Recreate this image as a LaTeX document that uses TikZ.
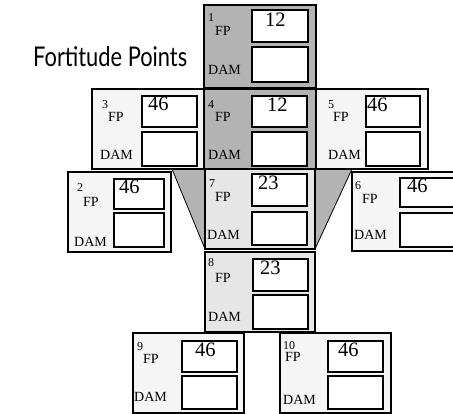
\documentclass[tikz,border=0pt]{standalone}
\usepackage{fontspec}
\setmainfont{Liberation Serif}
\newfontfamily\titlefont{Lato}
\usetikzlibrary{fit}
\definecolor{darkpart}{HTML}{B3B3B3}
\definecolor{midpart}{HTML}{E6E6E6}
\definecolor{lightpart}{HTML}{F5F5F5}
\tikzset{
  partbox/.style={draw=black, line width=1.8pt, inner sep=0pt},
  darkbox/.style={partbox, fill=darkpart},
  midbox/.style={partbox, fill=midpart},
  lightbox/.style={partbox, fill=lightpart},
  slot/.style={draw=black, line width=1.8pt, fill=white, inner sep=0pt},
  numlab/.style={font=\fontsize{12}{12}\selectfont, inner sep=0pt, anchor=base west},
  fplab/.style={font=\fontsize{14}{14}\selectfont, inner sep=0pt, anchor=base west},
  vallab/.style={font=\fontsize{20.5}{20.5}\selectfont, inner sep=0pt, anchor=base west},
  wedgefill/.style={fill=darkpart},
  wedgeline/.style={draw=black, line width=0.8pt},
  titlelab/.style={inner sep=0pt, anchor=base west}
}
% name, style, north-west corner, south-east corner
\newcommand\rectnode[4]{%
  \coordinate (#1-a) at (#3);
  \coordinate (#1-b) at (#4);
  \node[#2, fit=(#1-a)(#1-b)] (#1) {};}
% box name, number, num pos, FP pos, DAM pos
\newcommand\partlabels[5]{%
  \node[numlab] (#1-num) at (#3) {#2};
  \node[fplab] (#1-fp) at (#4) {FP};
  \node[fplab] (#1-dam) at (#5) {DAM};}
\begin{document}
\begin{tikzpicture}[x=1pt, y=-1pt]
\clip (0,0) rectangle (453,414);
\fill[white] (0,0) rectangle (453,414);

% title
\node[titlelab] (title) at (33,67) {\resizebox{154pt}{20pt}{\titlefont Fortitude Points}};

% wedges between arms and torso
\fill[wedgefill] (172,169) -- (205,169) -- (205,249) -- cycle;
\draw[wedgeline] (172,169) -- (205,249);
\fill[wedgefill] (315,169) -- (352,169) -- (315,249) -- cycle;
\draw[wedgeline] (352,169) -- (315,249);

% outer boxes
\rectnode{b1}{darkbox}{204,5}{316,88}
\rectnode{b3}{lightbox}{92,89}{204,169}
\rectnode{b5}{lightbox}{316,89}{428,169}
\rectnode{b4}{darkbox}{204,89}{316,169}
\rectnode{b7}{midbox}{205,169}{315,249}
\rectnode{b2}{lightbox}{68,172}{171,252}
\rectnode{b6}{lightbox}{352,172}{470,251}
\rectnode{b8}{midbox}{205,252}{315,332}
\rectnode{b9}{lightbox}{133,333}{244,413}
\rectnode{b10}{lightbox}{280,333}{391,413}

% slots
\rectnode{s1f}{slot}{252,10}{308,42}   \rectnode{s1d}{slot}{252,47}{308,82}
\rectnode{s3f}{slot}{142,96}{197,127}  \rectnode{s3d}{slot}{142,132}{197,166}
\rectnode{s4f}{slot}{252,96}{307,127}  \rectnode{s4d}{slot}{252,132}{307,166}
\rectnode{s5f}{slot}{366,96}{420,127}  \rectnode{s5d}{slot}{366,132}{420,166}
\rectnode{s2f}{slot}{114,179}{164,209} \rectnode{s2d}{slot}{114,213}{164,247}
\rectnode{s7f}{slot}{252,174}{307,206} \rectnode{s7d}{slot}{252,212}{307,245}
\rectnode{s6f}{slot}{400,178}{462,207} \rectnode{s6d}{slot}{400,213}{462,247}
\rectnode{s8f}{slot}{253,259}{308,291} \rectnode{s8d}{slot}{253,295}{308,329}
\rectnode{s9f}{slot}{182,341}{237,372} \rectnode{s9d}{slot}{182,376}{237,409}
\rectnode{s10f}{slot}{328,341}{383,372} \rectnode{s10d}{slot}{328,376}{383,409}

% labels
\partlabels{b1}{1}{208,22}{215,36}{208,75}
\partlabels{b3}{3}{102,109}{108,122}{100,160}
\partlabels{b4}{4}{208,109}{215,122}{208,160}
\partlabels{b5}{5}{328,109}{333,122}{328,160}
\partlabels{b2}{2}{77,192}{83,207}{74,247}
\partlabels{b7}{7}{209,188}{215,202}{207,240}
\partlabels{b6}{6}{355,190}{362,204}{354,240}
\partlabels{b8}{8}{208,267}{215,283}{208,322}
\partlabels{b9}{9}{137,351}{143,363}{134,402}
\partlabels{b10}{10}{283,349}{285,362}{283,405}

% values
\node[vallab] (v1) at (265,27) {12};
\node[vallab] (v3) at (148,111) {46};
\node[vallab] (v4) at (267,112) {12};
\node[vallab] (v5) at (367,112) {46};
\node[vallab] (v2) at (119,194) {46};
\node[vallab] (v7) at (258,190) {23};
\node[vallab] (v6) at (407,193) {46};
\node[vallab] (v8) at (260,275) {23};
\node[vallab] (v9) at (195,357) {46};
\node[vallab] (v10) at (338,356) {46};
\end{tikzpicture}
\end{document}
